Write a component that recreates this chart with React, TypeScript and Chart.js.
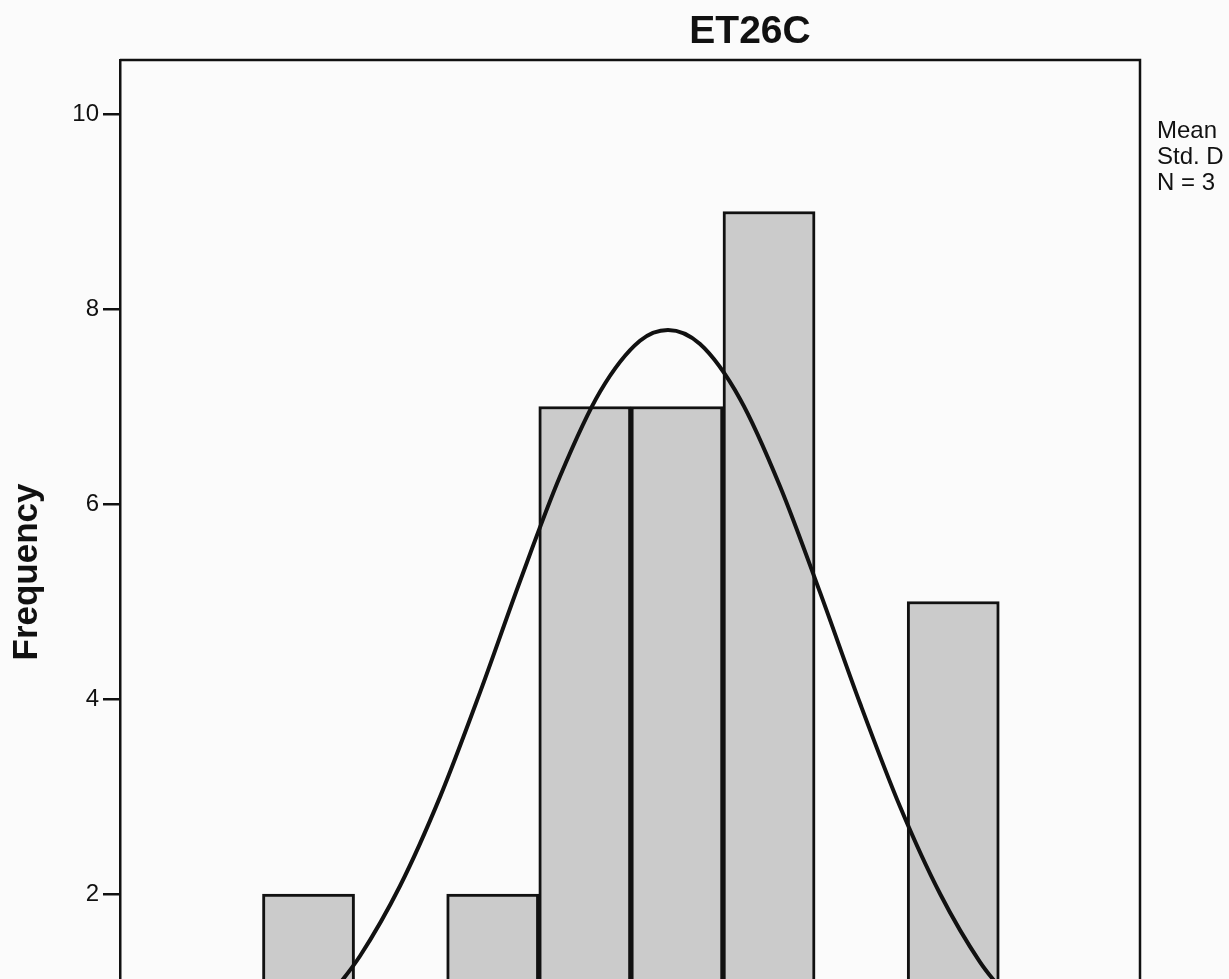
import React, { useEffect, useRef } from "react";
import { Chart, registerables } from "chart.js";

Chart.register(...registerables);

// Histogram bins (bin index) and frequencies
const binIndex = [0, 1, 2, 3, 4, 5, 6, 7];
const frequencies = [2, 0, 2, 7, 7, 9, 0, 5];

// Normal curve points (x in bin units, y in frequency)
const curveX = [0.233, 0.559, 0.993, 1.428, 1.862, 2.296, 2.731, 3.165, 3.599, 3.903, 4.251, 4.685, 5.119, 5.554, 5.988, 6.422, 6.857, 7.291, 7.622];
const curveY = [0.955, 1.364, 2.082, 2.996, 4.068, 5.208, 6.284, 7.151, 7.674, 7.785, 7.64, 7.078, 6.183, 5.093, 3.956, 2.897, 2.002, 1.302, 0.909];

const yTicks = [2, 4, 6, 8, 10];
const titleText = "ET26C";
const yAxisLabel = "Frequency";
const statsLines = ["Mean", "Std. D", "N = 3"];

const FONT = "'Liberation Sans', Arial, sans-serif";

const decorPlugin = {
  id: "decor",
  beforeDraw(chart: any) {
    const ctx = chart.ctx;
    ctx.save();
    ctx.fillStyle = "#fbfbfb";
    ctx.fillRect(0, 0, chart.width, chart.height);
    ctx.restore();
  },
  afterDraw(chart: any) {
    const ctx = chart.ctx;
    const a = chart.chartArea;
    ctx.save();
    ctx.strokeStyle = "#111";
    ctx.lineWidth = 2.5;
    ctx.beginPath();
    ctx.moveTo(a.left, a.top);
    ctx.lineTo(a.right, a.top);
    ctx.lineTo(a.right, a.bottom);
    ctx.stroke();

    ctx.fillStyle = "#111";
    ctx.font = `bold 39px ${FONT}`;
    ctx.textAlign = "center";
    ctx.textBaseline = "alphabetic";
    ctx.fillText(titleText, 750, 43);

    ctx.save();
    ctx.translate(37, 572);
    ctx.rotate(-Math.PI / 2);
    ctx.font = `bold 35px ${FONT}`;
    ctx.textAlign = "center";
    ctx.fillText(yAxisLabel, 0, 0);
    ctx.restore();

    ctx.font = `24px ${FONT}`;
    ctx.textAlign = "left";
    const baselines = [138, 164, 190];
    statsLines.forEach((s, i) => ctx.fillText(s, 1157, baselines[i]));
    ctx.restore();
  },
};

export default function App() {
  const ref = useRef<HTMLCanvasElement | null>(null);
  useEffect(() => {
    if (!ref.current) return;
    const chart = new Chart(ref.current, {
      type: "bar",
      data: {
        datasets: [
          {
            type: "line",
            data: curveX.map((x, i) => ({ x, y: curveY[i] })),
            borderColor: "#111",
            borderWidth: 4,
            pointRadius: 0,
            tension: 0.4,
            cubicInterpolationMode: "monotone",
            fill: false,
            order: 0,
          } as any,
          {
            type: "bar",
            data: binIndex.map((x, i) => ({ x, y: frequencies[i] })),
            backgroundColor: "#cbcbcb",
            borderColor: "#111",
            borderWidth: 3,
            borderSkipped: "bottom",
            barPercentage: 1,
            categoryPercentage: 1,
            order: 1,
          } as any,
        ],
      },
      options: {
        animation: false,
        responsive: true,
        maintainAspectRatio: false,
        layout: { padding: { left: 0, top: 60, right: 89, bottom: 0 } },
        plugins: { legend: { display: false }, tooltip: { enabled: false }, title: { display: false } },
        scales: {
          x: {
            type: "linear",
            display: false,
            offset: false,
            grid: { offset: false },
            min: -2.047,
            max: 9.028,
          },
          y: {
            type: "linear",
            min: 1.128,
            max: 10.554,
            afterBuildTicks: (scale: any) => {
              scale.ticks = yTicks.map((v) => ({ value: v }));
            },
            afterFit: (scale: any) => {
              scale.width = 120;
              scale.paddingTop = 0;
              scale.paddingBottom = 0;
            },
            grid: {
              display: true,
              drawOnChartArea: false,
              drawTicks: true,
              tickLength: 17,
              color: "#111",
              lineWidth: 2.5,
            },
            border: { display: true, color: "#111", width: 2.5 },
            ticks: {
              color: "#111",
              font: { family: FONT, size: 24 },
              padding: 4,
            },
          },
        },
      } as any,
      plugins: [decorPlugin],
    });
    return () => chart.destroy();
  }, []);
  return (
    <div style={{ position: "absolute", left: 0, top: 0, width: 1229, height: 979 }}>
      <canvas ref={ref} />
    </div>
  );
}
